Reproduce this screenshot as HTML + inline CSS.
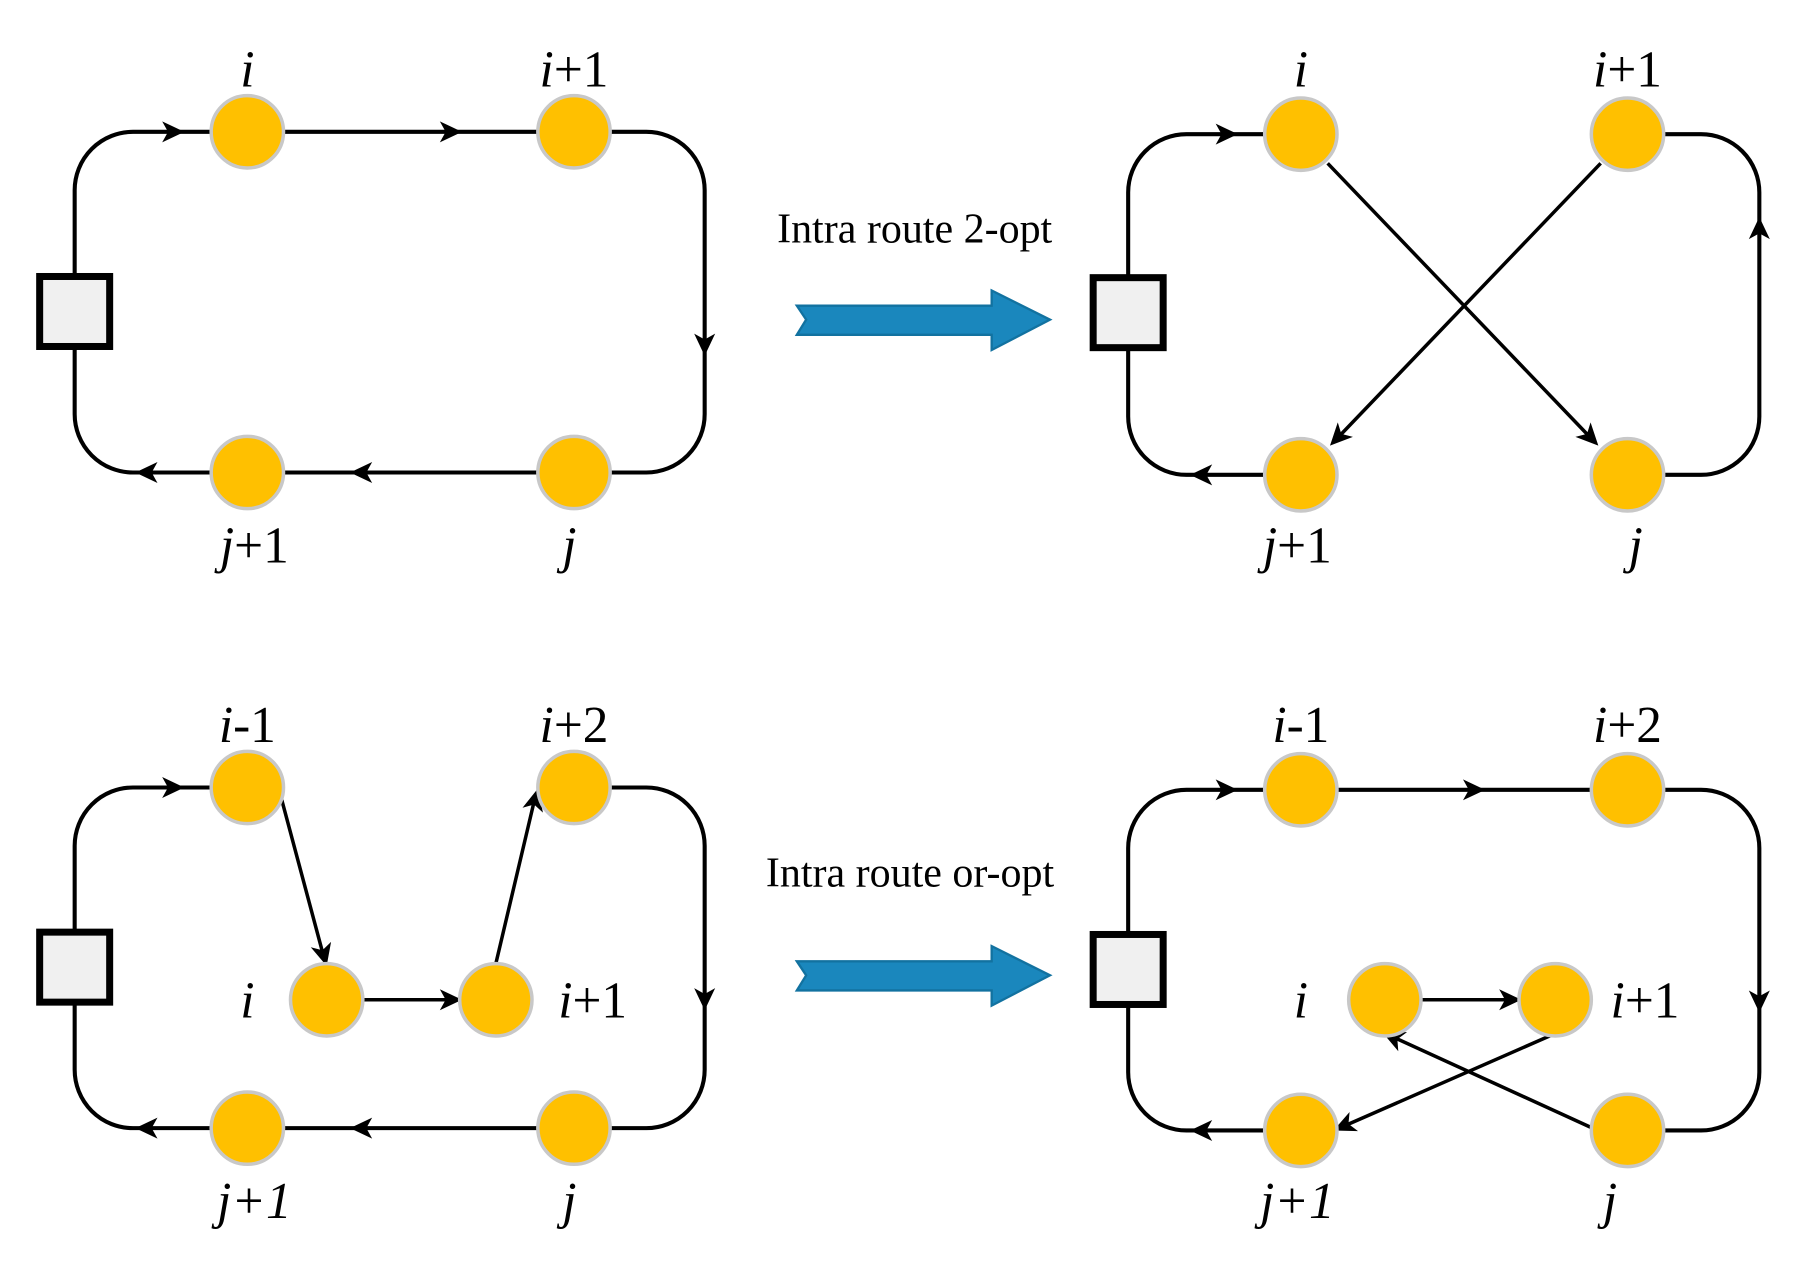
<!DOCTYPE html>
<html><head><style>html,body{margin:0;padding:0;background:#fff}svg{display:block}</style></head>
<body>
<svg width="1820" height="1270" viewBox="0 0 1560 1088.6" preserveAspectRatio="none" xmlns="http://www.w3.org/2000/svg" font-family="'Liberation Serif', serif">
<defs>
<path id="ah" d="M0 0 L-19 -9 L-14 0 L-19 9 Z" fill="#000"/>
</defs>
<g fill="none" stroke="#000" stroke-width="3.5">
<rect x="64" y="113" width="540" height="292" rx="50" ry="50"/>
<path d="M1115 115 H1017 A50 50 0 0 0 967 165 V357 A50 50 0 0 0 1017 407 H1115"/>
<path d="M1395 115 H1458 A50 50 0 0 1 1508 165 V357 A50 50 0 0 1 1458 407 H1395"/>
<line x1="1138" y1="140" x2="1366" y2="378" stroke-width="3"/>
<line x1="1372" y1="140" x2="1144" y2="378" stroke-width="3"/>
<path d="M492 675 H554 A50 50 0 0 1 604 725 V917 A50 50 0 0 1 554 967 H114 A50 50 0 0 1 64 917 V725 A50 50 0 0 1 114 675 H212"/>
<line x1="240" y1="680" x2="278" y2="822" stroke-width="3"/>
<line x1="310" y1="857" x2="390" y2="857" stroke-width="3"/>
<line x1="425" y1="826" x2="459" y2="682" stroke-width="3"/>
<path d="M1115 969 H1017 A50 50 0 0 1 967 919 V727 A50 50 0 0 1 1017 677 H1458 A50 50 0 0 1 1508 727 V919 A50 50 0 0 1 1458 969 H1395"/>
<line x1="1217" y1="857" x2="1298" y2="857" stroke-width="3"/>
<line x1="1335" y1="885" x2="1148" y2="967" stroke-width="3"/>
<line x1="1365" y1="967" x2="1190" y2="887" stroke-width="3"/>
</g>
<use href="#ah" transform="translate(158,113)"/>
<use href="#ah" transform="translate(396,113)"/>
<use href="#ah" transform="translate(604,305) rotate(90)"/>
<use href="#ah" transform="translate(300,405) rotate(180)"/>
<use href="#ah" transform="translate(116,405) rotate(180)"/>

<use href="#ah" transform="translate(1061,115)"/>
<use href="#ah" transform="translate(1020,407) rotate(180)"/>
<use href="#ah" transform="translate(1508,186) rotate(-90)"/>
<use href="#ah" transform="translate(1370,382) rotate(46.2)"/>
<use href="#ah" transform="translate(1140,382) rotate(133.8)"/>

<use href="#ah" transform="translate(158,675)"/>
<use href="#ah" transform="translate(604,866) rotate(90)"/>
<use href="#ah" transform="translate(300,967) rotate(180)"/>
<use href="#ah" transform="translate(116,967) rotate(180)"/>
<use href="#ah" transform="translate(280,828) rotate(75)"/>
<use href="#ah" transform="translate(396,857)"/>
<use href="#ah" transform="translate(461,676) rotate(-76.7)"/>

<use href="#ah" transform="translate(1061,677)"/>
<use href="#ah" transform="translate(1273,677)"/>
<use href="#ah" transform="translate(1508,868) rotate(90)"/>
<use href="#ah" transform="translate(1020,969) rotate(180)"/>
<use href="#ah" transform="translate(1304,857)"/>
<use href="#ah" transform="translate(1143,969) rotate(156.3)"/>
<use href="#ah" transform="translate(1185,885) rotate(204.6)"/>

<g fill="#f0f0f0" stroke="#000" stroke-width="6">
<rect x="34" y="237" width="60" height="60"/>
<rect x="937" y="238" width="60" height="60"/>
<rect x="34" y="799" width="60" height="60"/>
<rect x="937" y="801" width="60" height="60"/>
</g>
<g fill="#FFC000" stroke="#c8c8c8" stroke-width="3">
<circle cx="212" cy="113" r="31"/><circle cx="492" cy="113" r="31"/><circle cx="212" cy="405" r="31"/><circle cx="492" cy="405" r="31"/>
<circle cx="1115" cy="115" r="31"/><circle cx="1395" cy="115" r="31"/><circle cx="1115" cy="407" r="31"/><circle cx="1395" cy="407" r="31"/>
<circle cx="212" cy="675" r="31"/><circle cx="492" cy="675" r="31"/><circle cx="280" cy="857" r="31"/><circle cx="425" cy="857" r="31"/><circle cx="212" cy="967" r="31"/><circle cx="492" cy="967" r="31"/>
<circle cx="1115" cy="677" r="31"/><circle cx="1395" cy="677" r="31"/><circle cx="1187" cy="857" r="31"/><circle cx="1333" cy="857" r="31"/><circle cx="1115" cy="969" r="31"/><circle cx="1395" cy="969" r="31"/>
</g>
<g fill="#1a87bd" stroke="#1272a0" stroke-width="2">
<polygon points="683,262 850,262 850,249 900,274 850,300 850,287 683,287 691,274"/>
<polygon points="683,824 850,824 850,811 900,836 850,862 850,849 683,849 691,836"/>
</g>
<g font-size="44" text-anchor="middle" fill="#000">
<text x="212" y="74"><tspan font-style="italic">i</tspan></text>
<text x="492" y="74"><tspan font-style="italic">i</tspan>+1</text>
<text x="218" y="482"><tspan font-style="italic">j</tspan>+1</text>
<text x="488" y="482"><tspan font-style="italic">j</tspan></text>
<text x="1115" y="74"><tspan font-style="italic">i</tspan></text>
<text x="1395" y="74"><tspan font-style="italic">i</tspan>+1</text>
<text x="1112" y="482"><tspan font-style="italic">j</tspan>+1</text>
<text x="1402" y="482"><tspan font-style="italic">j</tspan></text>
<text x="212" y="636"><tspan font-style="italic">i</tspan>-1</text>
<text x="492" y="636"><tspan font-style="italic">i</tspan>+2</text>
<text x="212" y="872"><tspan font-style="italic">i</tspan></text>
<text x="508" y="872"><tspan font-style="italic">i</tspan>+1</text>
<text x="218" y="1044" font-style="italic">j+1</text>
<text x="488" y="1044"><tspan font-style="italic">j</tspan></text>
<text x="1115" y="636"><tspan font-style="italic">i</tspan>-1</text>
<text x="1395" y="636"><tspan font-style="italic">i</tspan>+2</text>
<text x="1115" y="872"><tspan font-style="italic">i</tspan></text>
<text x="1410" y="872"><tspan font-style="italic">i</tspan>+1</text>
<text x="1112" y="1044" font-style="italic">j+1</text>
<text x="1380" y="1044"><tspan font-style="italic">j</tspan></text>
</g>
<g font-size="36" text-anchor="middle" fill="#000">
<text x="784" y="208">Intra route 2-opt</text>
<text x="780" y="760">Intra route or-opt</text>
</g>
</svg>
</body></html>
